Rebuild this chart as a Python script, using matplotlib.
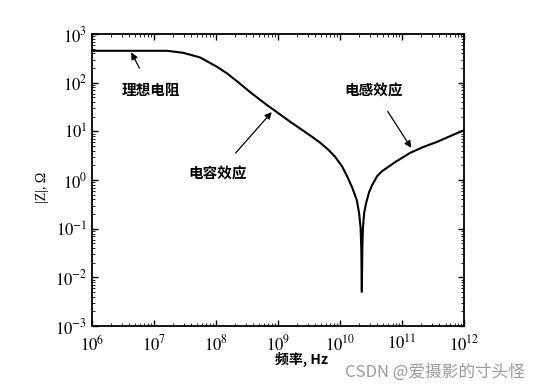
import numpy as np
import matplotlib.pyplot as plt

plt.rcParams['font.family'] = ['Noto Sans CJK SC', 'DejaVu Sans']
plt.rcParams['mathtext.fontset'] = 'stix'

# точки кривой |Z|(f) (показатели степени)
log_f = [6.000, 6.613, 6.935, 7.210, 7.468, 7.742, 8.016, 8.177, 8.339, 8.548,
         8.710, 8.823, 9.032, 9.194, 9.355, 9.548, 9.677, 9.806, 9.919, 10.032,
         10.113, 10.194, 10.269, 10.306, 10.331, 10.342, 10.350, 10.358, 10.368,
         10.387, 10.419, 10.468, 10.516, 10.597, 10.677, 10.774, 10.887, 11.129,
         11.339, 11.565, 11.774, 12.000]
log_z = [2.657, 2.657, 2.657, 2.657, 2.616, 2.521, 2.328, 2.193, 2.030, 1.810,
         1.650, 1.540, 1.350, 1.200, 1.060, 0.890, 0.770, 0.630, 0.480, 0.280,
         0.080, -0.150, -0.411, -0.678, -0.986, -1.438, -2.295, -1.438, -0.986,
         -0.678, -0.472, -0.246, -0.103, 0.082, 0.185, 0.270, 0.370, 0.560,
         0.680, 0.787, 0.904, 1.028]

freq = 10.0 ** np.array(log_f)
imp = 10.0 ** np.array(log_z)

x_ticks = [1e6, 1e7, 1e8, 1e9, 1e10, 1e11, 1e12]
y_ticks = [1e-3, 1e-2, 1e-1, 1e0, 1e1, 1e2, 1e3]

# подписи: текст, положение текста, куда указывает стрелка
notes = [
    ("理想电阻", (8.9e6, 71), (4.3e6, 420)),
    ("电容效应", (1.07e8, 1.39), (7.9e8, 25)),
    ("电感效应", (3.5e10, 71), (1.4e11, 4.6)),
]

fig = plt.figure(figsize=(5.41, 3.92), dpi=100)
ax = fig.add_axes([0.170, 0.168, 0.688, 0.745])

ax.plot(freq, imp, color='black', lw=1.5)
ax.set_xscale('log')
ax.set_yscale('log')
ax.set_xlim(1e6, 1e12)
ax.set_ylim(1e-3, 1e3)
ax.set_xticks(x_ticks)
ax.set_yticks(y_ticks)
ax.set_xticklabels([f"$10^{{{int(np.log10(v))}}}$" for v in x_ticks], fontsize=12)
ax.set_yticklabels([f"$10^{{{int(np.log10(v))}}}$" for v in y_ticks], fontsize=12)
ax.tick_params(which='both', direction='in', top=True, right=True)
ax.tick_params(which='major', length=4, width=1)
ax.tick_params(axis='x', which='major', pad=6)
ax.tick_params(which='minor', length=2, width=0.6)
for s in ax.spines.values():
    s.set_linewidth(1.3)

for txt, xy_text, xy in notes:
    ax.annotate(txt, xy=xy, xytext=xy_text, fontsize=10.5, fontweight='bold',
                ha='center', va='center',
                arrowprops=dict(arrowstyle='-|>', color='black', lw=0.9,
                                mutation_scale=10, shrinkA=9, shrinkB=0))

fig.text(0.558, 0.084, "频率, Hz", fontsize=10, fontweight='bold', ha='center', va='center')
fig.text(0.078, 0.523, "|Z|, Ω", fontsize=10, rotation=90, ha='center', va='center',
         family='Liberation Serif')

fig.text(0.970, 0.051, "CSDN @爱摄影的寸头怪", fontsize=12, color='#9a9a9a',
         ha='right', va='center')

plt.savefig("out.png", dpi=100)
